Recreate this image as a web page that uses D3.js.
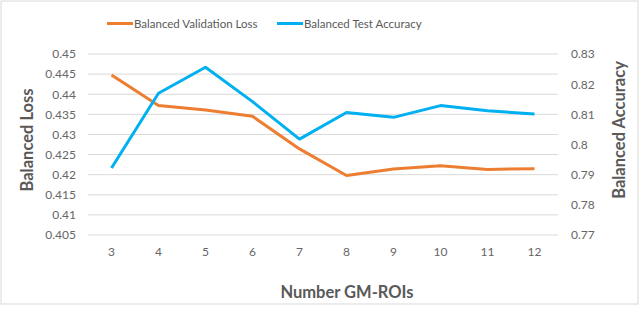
<!DOCTYPE html>
<html><head><meta charset="utf-8">
<script src="https://cdn.jsdelivr.net/npm/d3@7"></script>
<style>body{margin:0;background:#fff}svg{display:block}</style>
</head><body>
<svg id="c" width="640" height="323"></svg>
<script>
const categories = [3,4,5,6,7,8,9,10,11,12];
const lossValues = [0.4448,0.4372,0.4361,0.4345,0.4264,0.4198,0.4214,0.4222,0.4213,0.4215];
const accValues  = [0.7922,0.8170,0.8256,0.8142,0.8018,0.8106,0.8090,0.8129,0.8112,0.8101];
const leftTicks  = [0.405,0.41,0.415,0.42,0.425,0.43,0.435,0.44,0.445,0.45];
const rightTicks = [0.77,0.78,0.79,0.8,0.81,0.82,0.83];
const seriesNames = ["Balanced Validation Loss","Balanced Test Accuracy"];
const colors = ["#ED7D31","#00B0F0"];

const svg = d3.select("#c");
const font = "Lato, 'Open Sans', sans-serif";
const m = {l:88, r:558, t:54, b:235};

svg.append("rect").attr("x",1).attr("y",1).attr("width",637).attr("height",303)
  .attr("fill","#fff").attr("stroke","#d9d9d9").attr("stroke-width",1);

const x = d3.scaleBand().domain(categories).range([m.l,m.r]);
const yL = d3.scaleLinear().domain([0.405,0.45]).range([m.b,m.t]);
const yR = d3.scaleLinear().domain([0.77,0.83]).range([m.b,m.t]);

// gridlines
svg.append("g").selectAll("line").data(leftTicks).join("line")
  .attr("x1",m.l).attr("x2",m.r).attr("y1",d=>yL(d)).attr("y2",d=>yL(d))
  .attr("stroke","#d9d9d9").attr("stroke-width",1);

// left axis
const gl = svg.append("g").attr("transform",`translate(${m.l-12},0)`)
  .call(d3.axisLeft(yL).tickValues(leftTicks).tickSize(0).tickPadding(0).tickFormat(d=>String(+d.toFixed(3))));
gl.select(".domain").remove();
gl.selectAll("text").attr("font-family",font).attr("font-size",12).attr("fill","#666");

const gr = svg.append("g").attr("transform",`translate(${m.r+13},0)`)
  .call(d3.axisRight(yR).tickValues(rightTicks).tickSize(0).tickPadding(0).tickFormat(d=>String(+d.toFixed(2))));
gr.select(".domain").remove();
gr.selectAll("text").attr("font-family",font).attr("font-size",12).attr("fill","#666");

const gx = svg.append("g").attr("transform",`translate(0,${m.b+12})`)
  .call(d3.axisBottom(x).tickSize(0).tickPadding(0));
gx.select(".domain").remove();
gx.selectAll("text").attr("font-family",font).attr("font-size",12).attr("fill","#666").attr("dy","0.71em");

// lines
const cx = d=>x(d)+x.bandwidth()/2;
svg.append("path").datum(categories.map((c,i)=>[cx(c),yL(lossValues[i])]))
  .attr("d",d3.line()).attr("fill","none").attr("stroke",colors[0]).attr("stroke-width",3).attr("stroke-linejoin","round");
svg.append("path").datum(categories.map((c,i)=>[cx(c),yR(accValues[i])]))
  .attr("d",d3.line()).attr("fill","none").attr("stroke",colors[1]).attr("stroke-width",3).attr("stroke-linejoin","round");

// axis titles
svg.append("text").attr("transform","translate(33,140) rotate(-90)").attr("text-anchor","middle")
  .attr("font-family",font).attr("font-size",16.5).attr("font-weight","bold").attr("fill","#595959").text("Balanced Loss");
svg.append("text").attr("transform","translate(625,130) rotate(-90)").attr("text-anchor","middle")
  .attr("font-family",font).attr("font-size",16.5).attr("font-weight","bold").attr("fill","#595959").text("Balanced Accuracy");
svg.append("text").attr("x",347).attr("y",298).attr("text-anchor","middle")
  .attr("font-family",font).attr("font-size",16.5).attr("font-weight","bold").attr("fill","#595959").text("Number GM-ROIs");

// legend
const legX = [107,277];
seriesNames.forEach((n,i)=>{
  svg.append("line").attr("x1",legX[i]).attr("x2",legX[i]+26).attr("y1",23.5).attr("y2",23.5)
    .attr("stroke",colors[i]).attr("stroke-width",3);
  svg.append("text").attr("x",legX[i]+27).attr("y",27.6).attr("font-family",font).attr("font-size",11.5)
    .attr("fill","#595959").text(n);
});
</script>
</body></html>
